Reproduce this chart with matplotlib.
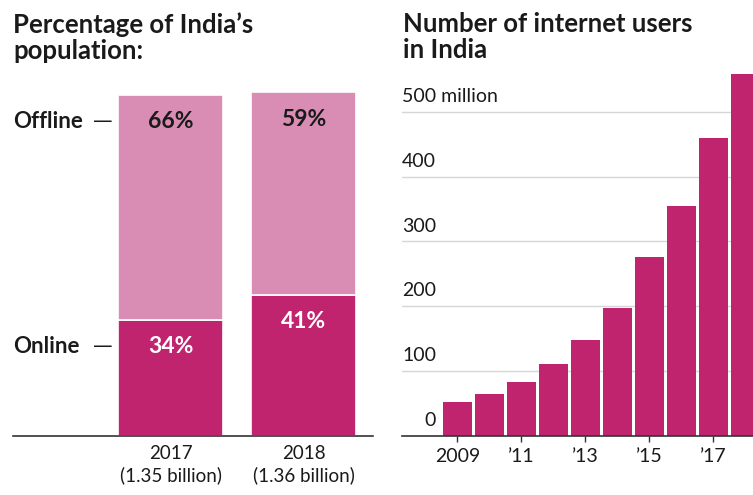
"""
Internet users in India: share of population online/offline and number of users
"""
import matplotlib
matplotlib.use('Agg')
import matplotlib.pyplot as plt
import numpy as np

# Данные: доля населения
pop_years = ['2017', '2018']
pop_labels = ['2017\n(1.35 billion)', '2018\n(1.36 billion)']
population_bn = [1.35, 1.36]
online_pct = [34, 41]
offline_pct = [66, 59]

# Данные: число интернет-пользователей (млн)
user_years = [2009, 2010, 2011, 2012, 2013, 2014, 2015, 2016, 2017, 2018]
users_mn = [52, 65, 83, 110, 148, 197, 276, 354, 460, 558]
user_ticks = [2009, 2011, 2013, 2015, 2017]
user_tick_labels = ['2009', '\u201911', '\u201913', '\u201915', '\u201917']
grid_values = [0, 100, 200, 300, 400, 500]
grid_labels = ['0', '100', '200', '300', '400', '500 million']

DARK = '#C0246E'
LIGHT = '#D98DB5'
TEXT = '#1a1a1a'
FONT = 'Lato'

plt.rcParams['font.family'] = [FONT, 'DejaVu Sans']

W, H = 753, 495
fig = plt.figure(figsize=(W / 100, H / 100), dpi=100)

# ---------- левый график ----------
ax1 = fig.add_axes([13 / W, 59.3 / H, 359.7 / W, 344.1 / H])
x = np.arange(len(pop_years))
scale = np.array(population_bn) / population_bn[0]
on_h = np.array(online_pct) * scale
off_h = np.array(offline_pct) * scale
ax1.bar(x, on_h, width=0.79, color=DARK, edgecolor='white', linewidth=1.2, zorder=2)
ax1.bar(x, off_h, width=0.79, bottom=on_h, color=LIGHT, edgecolor='white', linewidth=1.2, zorder=2)
ax1.set_xlim(-1.186, 1.52)
ax1.set_ylim(0, 101)

for i in range(len(x)):
    ax1.annotate(f'{offline_pct[i]}%', (x[i], on_h[i] + off_h[i]), xytext=(0, -19.4),
                 textcoords='offset points', ha='center', va='center',
                 fontsize=16.5, fontweight='bold', color=TEXT)
    ax1.annotate(f'{online_pct[i]}%', (x[i], on_h[i]), xytext=(0, -19.4),
                 textcoords='offset points', ha='center', va='center',
                 fontsize=16.5, fontweight='bold', color='white')

# подписи Offline / Online слева
for name, yv in [('Offline', on_h[0] + off_h[0]), ('Online', on_h[0])]:
    ax1.annotate(name, (0, yv), xycoords=('axes fraction', 'data'), xytext=(0, -19.4),
                 textcoords='offset points', ha='left', va='center',
                 fontsize=16, fontweight='bold', color=TEXT)
    ax1.annotate('\u2014', (0.25, yv), xycoords=('axes fraction', 'data'), xytext=(0, -19.4),
                 textcoords='offset points', ha='center', va='center',
                 fontsize=14, color=TEXT, family='DejaVu Sans')

ax1.set_xticks(x)
ax1.set_xticklabels(pop_labels, fontsize=13.5, color=TEXT, linespacing=1.25)
ax1.tick_params(axis='x', length=0, pad=7)
ax1.set_yticks([])
for s in ['top', 'right', 'left']:
    ax1.spines[s].set_visible(False)
ax1.spines['bottom'].set_color('#333333')
ax1.spines['bottom'].set_linewidth(1.2)

# ---------- правый график ----------
ax2 = fig.add_axes([401.7 / W, 59.3 / H, 351.3 / W, 372.6 / H])
ax2.bar(user_years, users_mn, width=0.89, color=DARK, zorder=2)
ax2.set_xlim(2007.26, 2018.24)
ax2.set_ylim(0, 575)

for v, lab in zip(grid_values, grid_labels):
    if v > 0:
        ax2.axhline(v, color='#d6d6d6', linewidth=1, zorder=1)
    if lab.endswith('million'):
        ax2.annotate(lab, (0, v), xycoords=('axes fraction', 'data'), xytext=(0, 11),
                     textcoords='offset points', ha='left', va='center',
                     fontsize=14, color=TEXT)
    else:
        ax2.annotate(lab, (0.0976, v), xycoords=('axes fraction', 'data'), xytext=(0, 11),
                     textcoords='offset points', ha='right', va='center',
                     fontsize=14, color=TEXT)

ax2.set_xticks(user_ticks)
ax2.set_xticklabels(user_tick_labels, fontsize=14, color=TEXT)
ax2.tick_params(axis='x', direction='out', length=4, width=1, color='#333333', pad=5)
ax2.set_yticks([])
for s in ['top', 'right', 'left']:
    ax2.spines[s].set_visible(False)
ax2.spines['bottom'].set_color('#333333')
ax2.spines['bottom'].set_linewidth(1.2)

# ---------- заголовки ----------
fig.text(13 / W, 1 - 12 / H, 'Percentage of India\u2019s\npopulation:', ha='left', va='top',
         fontsize=18.5, fontweight='bold', color=TEXT, linespacing=1.12)
fig.text(403 / W, 1 - 12 / H, 'Number of internet users\nin India', ha='left', va='top',
         fontsize=18.5, fontweight='bold', color=TEXT, linespacing=1.12)

fig.savefig('out.png', dpi=100, facecolor='white')
plt.close(fig)
